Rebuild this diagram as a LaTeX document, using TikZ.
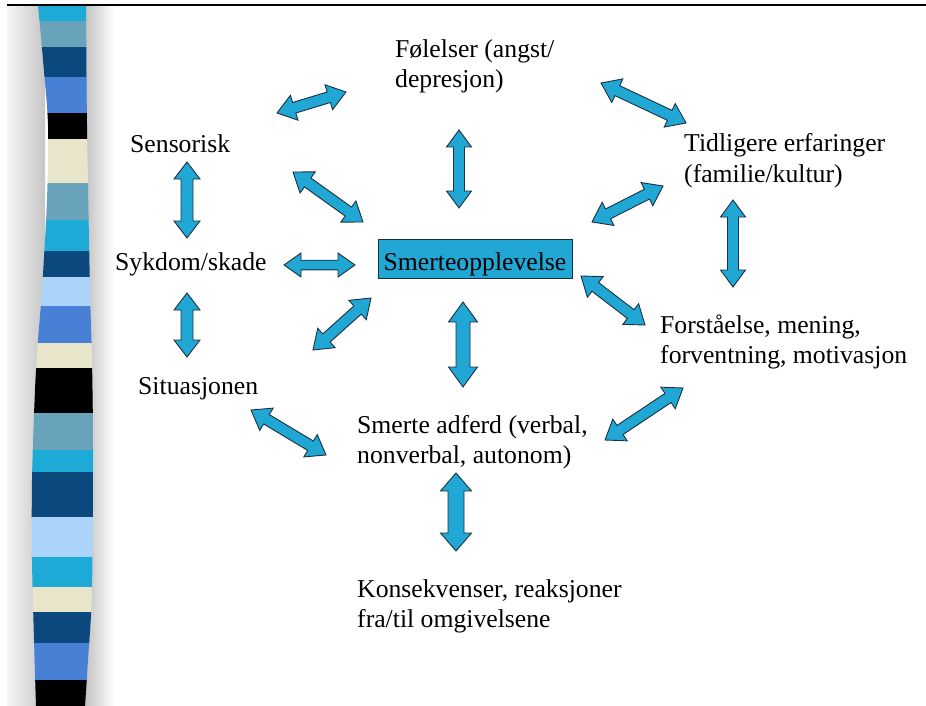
\documentclass[tikz,border=0pt]{standalone}
\usepackage{fontspec}
\setmainfont{Liberation Serif}
\usetikzlibrary{calc}

\definecolor{arrowblue}{RGB}{32,167,212}
\definecolor{arrowedge}{RGB}{28,48,66}
\definecolor{scyan}{RGB}{30,170,215}
\definecolor{sgrey}{RGB}{105,163,187}
\definecolor{snavy}{RGB}{10,72,126}
\definecolor{smid}{RGB}{72,128,214}
\definecolor{scream}{RGB}{233,229,202}
\definecolor{slight}{RGB}{170,212,250}

\tikzset{
  lbl/.style={font=\fontsize{25.7}{30}\selectfont, inner sep=0pt, anchor=base west, align=left},
  centre box/.style={font=\fontsize{25.7}{30}\selectfont, fill=arrowblue, draw=arrowedge, line width=0.8pt,
    anchor=base, minimum width=194pt, text height=29.2pt, text depth=6.8pt, inner xsep=0pt, inner ysep=1.5pt},
  arrowbody/.style={fill=arrowblue, draw=arrowedge, line width=0.9pt, line join=miter},
  arrowdims/.code args={#1/#2/#3}{\def\bhw{#1}\def\bsw{#2}\def\bhl{#3}},
}

\newcommand\blockarrow[3][]{%
  \begingroup
  \tikzset{arrowdims=13/5.5/18,#1}%
  \path (#2) coordinate (ba) (#3) coordinate (bb);
  \filldraw[arrowbody] (ba)
    -- ($(ba)!\bhl pt!(bb)!\bhw pt!90:(bb)$) -- ($(ba)!\bhl pt!(bb)!\bsw pt!90:(bb)$)
    -- ($(bb)!\bhl pt!(ba)!\bsw pt!-90:(ba)$) -- ($(bb)!\bhl pt!(ba)!\bhw pt!-90:(ba)$)
    -- (bb)
    -- ($(bb)!\bhl pt!(ba)!\bhw pt!90:(ba)$) -- ($(bb)!\bhl pt!(ba)!\bsw pt!90:(ba)$)
    -- ($(ba)!\bhl pt!(bb)!\bsw pt!-90:(bb)$) -- ($(ba)!\bhl pt!(bb)!\bhw pt!-90:(bb)$)
    -- cycle;
  \endgroup}

\begin{document}
\begin{tikzpicture}[x=1pt, y=-1pt]
  \useasboundingbox (0,0) rectangle (926,706);

  \shade[left color=gray!8, right color=gray!45] (7,5) rectangle (45,706);
  \shade[left color=gray!50, right color=white] (84,5) rectangle (114,706);

  \begin{scope}
    \clip plot[smooth] coordinates {(38,5) (43,60) (48,125) (47,200) (42,290) (38,340) (35,390) (32,480) (32,560) (34,640) (36,706)}
      -- plot[smooth] coordinates {(85,706) (88,660) (92,590) (93,450) (92,360) (90,290) (87,125) (86,5)} -- cycle;
    \foreach \ya/\yb/\c in {5/21/scyan, 21/47/sgrey, 47/77/snavy, 77/113/smid, 113/139/black,
        139/183/scream, 183/220/sgrey, 220/251/scyan, 251/277/snavy, 277/306/slight, 306/343/smid,
        343/368/scream, 368/413/black, 413/450/sgrey, 450/472/scyan, 472/517/snavy, 517/557/slight,
        557/587/scyan, 587/612/scream, 612/643/snavy, 643/680/smid, 680/707/black}
      \fill[\c] (25,\ya) rectangle (100,\yb+0.5);
  \end{scope}

  \draw[line width=2.5pt] (7,5) -- (926,5);

  \node[lbl] (fol) at (395,88) {Følelser (angst/\\depresjon)};
  \node[lbl] (sens) at (130,153) {Sensorisk};
  \node[lbl] (sykd) at (115,270) {Sykdom/skade};
  \node[lbl] (sit) at (138,394) {Situasjonen};
  \node[centre box] (sm) at (475,270) {Smerteopplevelse};
  \node[lbl] (tid) at (684,182) {Tidligere erfaringer\\(familie/kultur)};
  \node[lbl] (forst) at (660,363) {Forståelse, mening,\\forventning, motivasjon};
  \node[lbl] (adf) at (357,463) {Smerte adferd (verbal,\\nonverbal, autonom)};
  \node[lbl] (kons) at (357,627) {Konsekvenser, reaksjoner\\fra/til omgivelsene};

  \blockarrow{$(sens.base west)+(147,-40)$}{$(fol.base west)+(-49,4)$}
  \blockarrow[arrowdims=12.5/5.5/17]{$(fol.base west)+(64,42)$}{$(sm.base)+(-16,-62)$}
  \blockarrow{$(fol.base west)+(206,-5)$}{$(tid.base west)+(2,-59)$}
  \blockarrow{$(sens.base west)+(163,19)$}{$(sm.base)+(-112,-48)$}
  \blockarrow[arrowdims=13/6/17]{$(sens.base west)+(57,9)$}{$(sykd.base west)+(72,-32)$}
  \blockarrow[arrowdims=12/4.8/17]{$(sykd.base west)+(169,-5)$}{$(sm.base)+(-120,-5)$}
  \blockarrow[arrowdims=13/6/17]{$(sykd.base west)+(72,23)$}{$(sit.base west)+(49,-37)$}
  \blockarrow{$(sit.base west)+(175,-44)$}{$(sm.base)+(-104,28)$}
  \blockarrow[arrowdims=14.5/7/20]{$(sm.base)+(-12,32)$}{$(adf.base west)+(106,-76)$}
  \blockarrow{$(sit.base west)+(113,16)$}{$(adf.base west)+(-31,-8)$}
  \blockarrow{$(adf.base west)+(248,-23)$}{$(forst.base west)+(23,25)$}
  \blockarrow{$(sm.base)+(106,6)$}{$(forst.base west)+(-15,-38)$}
  \blockarrow{$(sm.base)+(117,-48)$}{$(tid.base west)+(-21,4)$}
  \blockarrow[arrowdims=12.5/5.5/17]{$(tid.base west)+(49,18)$}{$(forst.base west)+(73,-76)$}
  \blockarrow[arrowdims=15.5/8/18]{$(adf.base west)+(99,10)$}{$(kons.base west)+(99,-76)$}
\end{tikzpicture}
\end{document}
